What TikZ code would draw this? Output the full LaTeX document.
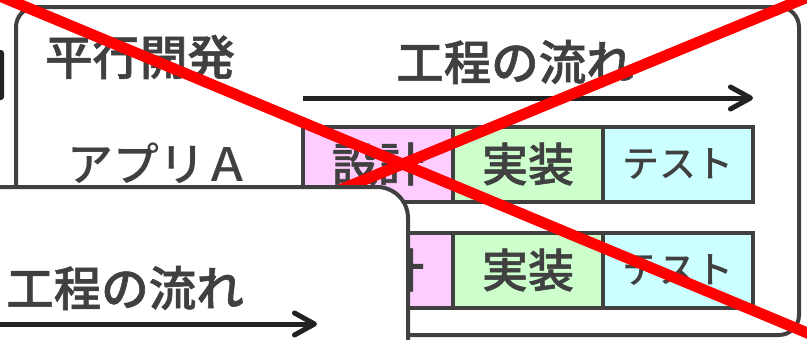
\documentclass[tikz,border=0pt]{standalone}
\usepackage{fontspec}
\newfontfamily\jp{Noto Sans CJK JP Medium}
\newfontfamily\jph{Noto Sans CJK JP Medium}[FakeBold=1.2]
\usetikzlibrary{arrows.meta}
\definecolor{bd}{HTML}{404040}
\definecolor{ink}{HTML}{222222}
\definecolor{pinkf}{HTML}{FFCCFF}
\definecolor{greenf}{HTML}{CCFFCC}
\definecolor{cyanf}{HTML}{CCFFFF}
\definecolor{xred}{HTML}{FF0000}
\tikzset{
  frame/.style={draw=bd, line width=4pt, fill=white},
  stepbox/.style={draw=bd, line width=4pt, minimum width=150pt, minimum height=75pt, inner sep=0pt, text=bd, font=\jp},
  title/.style={text=bd, font=\jph\fontsize{47.5}{50}\selectfont, inner sep=0pt},
  flow/.style={draw=ink, line width=5pt, -{Straight Barb[length=20pt,width=22pt,line cap=round,line join=round]}},
  cross/.style={draw=xred, line width=11pt},
}
\begin{document}
\begin{tikzpicture}[x=1pt,y=-1pt]
\useasboundingbox (0,0) rectangle (807,340);
\clip (0,0) rectangle (807,340);
% main frame
\draw[frame, rounded corners=20pt] (16,7) rectangle (799,335);
\node[title] (t1) at (140,57) {平行開発};
\node[title] (f1) at (515,62) {工程の流れ};
\coordinate (a1s) at (303,98);
\coordinate (a1e) at (753,98);
\draw[flow] (a1s) -- (a1e);
\node[text=bd, font=\jp\fontsize{46}{50}\selectfont, inner sep=0pt] (appa) at (159,163) {アプリＡ};
% row 1
\node[stepbox, fill=pinkf, font=\jph\fontsize{46}{48}\selectfont] (d1) at (378,164) {設計};
\node[stepbox, fill=greenf, font=\jph\fontsize{46}{48}\selectfont] (i1) at (528,164) {実装};
\node[stepbox, fill=cyanf, font=\jp\fontsize{37}{40}\selectfont] (s1) at (678,164) {テスト};
% row 2
\node[stepbox, fill=pinkf, font=\jph\fontsize{46}{48}\selectfont] (d2) at (378,270) {設計};
\node[stepbox, fill=greenf, font=\jph\fontsize{46}{48}\selectfont] (i2) at (528,270) {実装};
\node[stepbox, fill=cyanf, font=\jp\fontsize{37}{40}\selectfont] (s2) at (678,270) {テスト};
% red cross
\coordinate (x1a) at (-10,-8);
\coordinate (x1b) at (817,337);
\coordinate (x2a) at (820,-8);
\coordinate (x2b) at (0,330);
\draw[cross] (x1a) -- (x1b);
\draw[cross] (x2a) -- (x2b);
% overlay panel
\draw[frame, rounded corners=31pt] (-40,187) rectangle (408,400);
\node[title] (f2) at (125,288) {工程の流れ};
\coordinate (a2s) at (-10,324);
\coordinate (a2e) at (317,324);
\draw[flow] (a2s) -- (a2e);
% clipped dark piece at left edge
\fill[ink, rounded corners=3pt] (-10,50) rectangle (4,100);
\end{tikzpicture}
\end{document}
